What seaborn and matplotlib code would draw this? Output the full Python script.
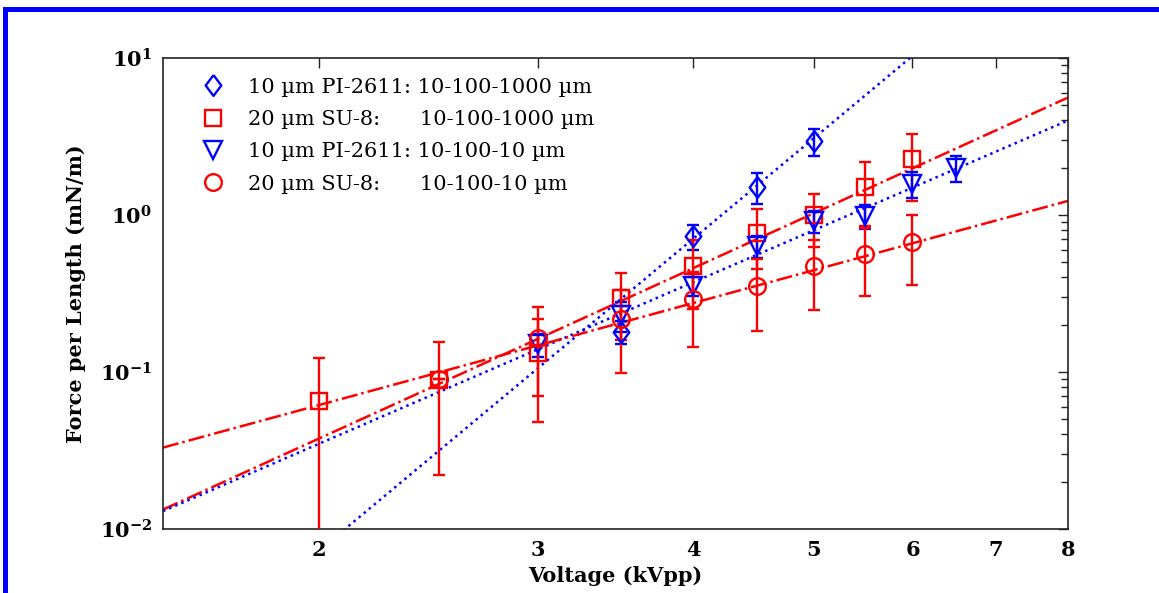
import numpy as np
import matplotlib
matplotlib.use("Agg")
import matplotlib.pyplot as plt
from matplotlib.lines import Line2D
from matplotlib.patches import Rectangle
from matplotlib.ticker import NullLocator, LogLocator, NullFormatter, FixedLocator
import seaborn as sns

# -------------------------------
# Data
# -------------------------------
# 10 um PI-2611, 10-100-1000 um (blue diamonds)
volts_di = [3.5, 4.0, 4.5, 5.0]
force_di = [0.18, 0.73, 1.51, 2.96]
err_di = [0.03, 0.135, 0.33, 0.58]

# 20 um SU-8, 10-100-1000 um (red squares)
volts_sq = [2.0, 2.5, 3.0, 3.5, 4.0, 4.5, 5.0, 5.5, 6.0]
force_sq = [0.065, 0.089, 0.133, 0.295, 0.473, 0.77, 1.0, 1.51, 2.26]
err_sq = [0.058, 0.067, 0.085, 0.135, 0.22, 0.32, 0.37, 0.66, 1.04]

# 10 um PI-2611, 10-100-10 um (blue triangles)
volts_tri = [3.0, 3.5, 4.0, 4.5, 5.0, 5.5, 6.0, 6.5]
force_tri = [0.15, 0.23, 0.355, 0.635, 0.915, 0.985, 1.58, 2.0]
err_tri = [0.025, 0.05, 0.05, 0.105, 0.15, 0.17, 0.3, 0.38]

# 20 um SU-8, 10-100-10 um (red circles)
volts_ci = [2.5, 3.0, 3.5, 4.0, 4.5, 5.0, 5.5, 6.0]
force_ci = [0.09, 0.165, 0.217, 0.29, 0.353, 0.473, 0.563, 0.677]
err_ci = [0.0, 0.095, 0.118, 0.145, 0.17, 0.223, 0.26, 0.32]

# power-law fit lines, value at the left and right end of the axis
fit_volts = [1.5, 8.0]
fit_di = [0.00108, 69.0]
fit_sq = [0.0133, 5.6]
fit_tri = [0.0130, 4.0]
fit_ci = [0.033, 1.23]

labels = [
    "10 \u00b5m PI-2611: 10-100-1000 \u00b5m",
    "20 \u00b5m SU-8:      10-100-1000 \u00b5m",
    "10 \u00b5m PI-2611: 10-100-10 \u00b5m",
    "20 \u00b5m SU-8:      10-100-10 \u00b5m",
]
xticks = [2, 3, 4, 5, 6, 7, 8]
yticks = [0.01, 0.1, 1, 10]
ytick_labels = [r"$\mathbf{10^{-2}}$", r"$\mathbf{10^{-1}}$",
                r"$\mathbf{10^{0}}$", r"$\mathbf{10^{1}}$"]

BLUE = "#0000ff"
RED = "#ff0000"

# taller-than-wide diamond like the original
diamond = [(0, 1), (0.75, 0), (0, -1), (-0.75, 0), (0, 1)]

series = [
    (volts_di, force_di, err_di, fit_di, diamond, 15, BLUE, ":"),
    (volts_sq, force_sq, err_sq, fit_sq, "s", 11, RED, "-."),
    (volts_tri, force_tri, err_tri, fit_tri, "v", 13, BLUE, ":"),
    (volts_ci, force_ci, err_ci, fit_ci, "o", 12, RED, "-."),
]

# -------------------------------
# Plot
# -------------------------------
sns.set_theme(style="white")
plt.rcParams["font.family"] = ["DejaVu Serif", "DejaVu Sans"]
plt.rcParams["mathtext.fontset"] = "dejavuserif"
plt.rcParams["text.color"] = "black"
plt.rcParams["axes.labelcolor"] = "black"

fig = plt.figure(figsize=(11.59, 5.93), dpi=100)
ax = fig.add_axes([163 / 1159, 64 / 593, 905 / 1159, 471 / 593])
ax.set_xscale("log")
ax.set_yscale("log")

for vx, fy, ey, fit, mk, ms, col, ls in series:
    sns.lineplot(x=fit_volts, y=fit, ax=ax, color=col, linestyle=ls,
                 linewidth=1.8, zorder=2)
    ax.errorbar(vx, fy, yerr=ey, fmt="none", ecolor=col, elinewidth=1.7,
                capsize=4.5, capthick=1.7, zorder=3)
    ax.plot(vx, fy, linestyle="none", marker=mk, ms=ms, mfc="none",
            mec=col, mew=1.7, zorder=4)

ax.set_xlim(1.5, 8)
ax.set_ylim(0.01, 10)

ax.xaxis.set_major_locator(FixedLocator(xticks))
ax.xaxis.set_minor_locator(NullLocator())
ax.set_xticks(xticks)
ax.set_xticklabels([str(t) for t in xticks])
ax.set_yticks(yticks)
ax.set_yticklabels(ytick_labels)
ax.yaxis.set_minor_locator(LogLocator(base=10, subs=np.arange(2, 10)))
ax.yaxis.set_minor_formatter(NullFormatter())

ax.tick_params(which="both", direction="in", top=True, right=True,
               colors="#222222", width=1.0)
ax.tick_params(which="major", length=7, pad=8, labelsize=15,
               labelcolor="black")
ax.tick_params(which="minor", length=5)
for lab in ax.get_xticklabels():
    lab.set_fontweight("bold")

for sp in ax.spines.values():
    sp.set_linewidth(1.2)
    sp.set_color("#222222")

ax.set_xlabel("Voltage (kVpp)", fontsize=15, fontweight="bold", labelpad=4)
ax.set_ylabel("Force per Length (mN/m)", fontsize=15, fontweight="bold",
              labelpad=10)

handles = [Line2D([], [], marker=mk, ms=ms, mfc="none", mec=col, mew=1.7,
                  linestyle="none")
           for _, _, _, _, mk, ms, col, _ in series]
ax.legend(handles, labels, loc="upper left", bbox_to_anchor=(0.044, 0.958),
          frameon=False, fontsize=15, handlelength=1.0, handletextpad=1.15,
          labelspacing=0.64, borderpad=0, borderaxespad=0, labelcolor="black")

# blue frame at the top and left of the picture
fig.add_artist(Rectangle((3 / 1159, 581 / 593), 1, 5 / 593,
                         transform=fig.transFigure, color=BLUE, lw=0))
fig.add_artist(Rectangle((3 / 1159, 0), 5 / 1159, 586 / 593,
                         transform=fig.transFigure, color=BLUE, lw=0))

fig.savefig("out.png", dpi=100)
